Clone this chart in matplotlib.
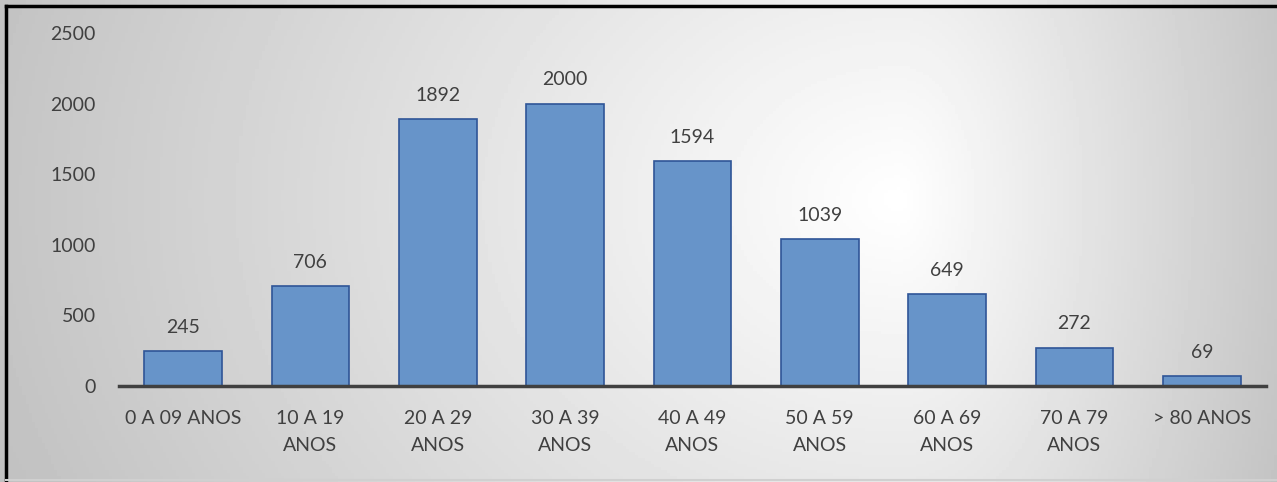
import numpy as np
import matplotlib.pyplot as plt
from matplotlib.lines import Line2D

categories = ['0 A 09 ANOS', '10 A 19\nANOS', '20 A 29\nANOS', '30 A 39\nANOS',
              '40 A 49\nANOS', '50 A 59\nANOS', '60 A 69\nANOS', '70 A 79\nANOS', '> 80 ANOS']
values = [245, 706, 1892, 2000, 1594, 1039, 649, 272, 69]
yticks = [0, 500, 1000, 1500, 2000, 2500]

plt.rcParams['font.family'] = ['Lato', 'DejaVu Sans']
textcolor = '#404040'

fig = plt.figure(figsize=(12.77, 4.82), dpi=100)

# radial gradient background, brightest right of centre
bg = fig.add_axes([0, 0, 1, 1], zorder=-10)
gx, gy = np.meshgrid(np.linspace(0, 1277, 400), np.linspace(0, 482, 160))
sx = np.where(gx < 900, 950.0, 420.0)
r = np.sqrt(((gx - 900) / sx) ** 2 + ((gy - 200) / 750) ** 2)
shade = np.clip(1.0 - 0.24 * r, 0.74, 1.0)
bg.imshow(shade, cmap='gray', vmin=0, vmax=1, extent=[0, 1277, 482, 0], aspect='auto')
bg.set_axis_off()

ax = fig.add_axes([0.0935, 0.1992, 0.8975, 0.7324])
ax.patch.set_alpha(0)
x = np.arange(len(values))
ax.bar(x, values, width=0.61, color='#6794c9', edgecolor='#2f5597', linewidth=1.2, zorder=2)
for xi, v in zip(x, values):
    ax.annotate(str(v), (xi, v), xytext=(0, 11), textcoords='offset points',
                ha='center', va='bottom', fontsize=14, color=textcolor)

ax.set_xlim(-0.5, len(values) - 0.5)
ax.set_ylim(0, 2500)
ax.set_yticks(yticks)
ax.set_yticklabels([str(t) for t in yticks])
ax.set_xticks(x)
ax.set_xticklabels(categories, linespacing=1.75)
ax.tick_params(axis='both', length=0, labelsize=14, colors=textcolor)
ax.tick_params(axis='x', pad=17)
ax.tick_params(axis='y', pad=17)
for s in ['top', 'right', 'left']:
    ax.spines[s].set_visible(False)
ax.spines['bottom'].set_color('#404040')
ax.spines['bottom'].set_linewidth(2.5)
ax.spines['bottom'].set_zorder(3)

# frame around the chart
fig.add_artist(Line2D([6 / 1277, 6 / 1277], [0, 1 - 6 / 482], color='black', linewidth=2.5))
fig.add_artist(Line2D([6 / 1277, 1], [1 - 6 / 482, 1 - 6 / 482], color='black', linewidth=2.5))
fig.add_artist(Line2D([6 / 1277, 1], [2 / 482, 2 / 482], color='#d0d0d0', linewidth=1.5))

fig.savefig('out.png', dpi=100)
